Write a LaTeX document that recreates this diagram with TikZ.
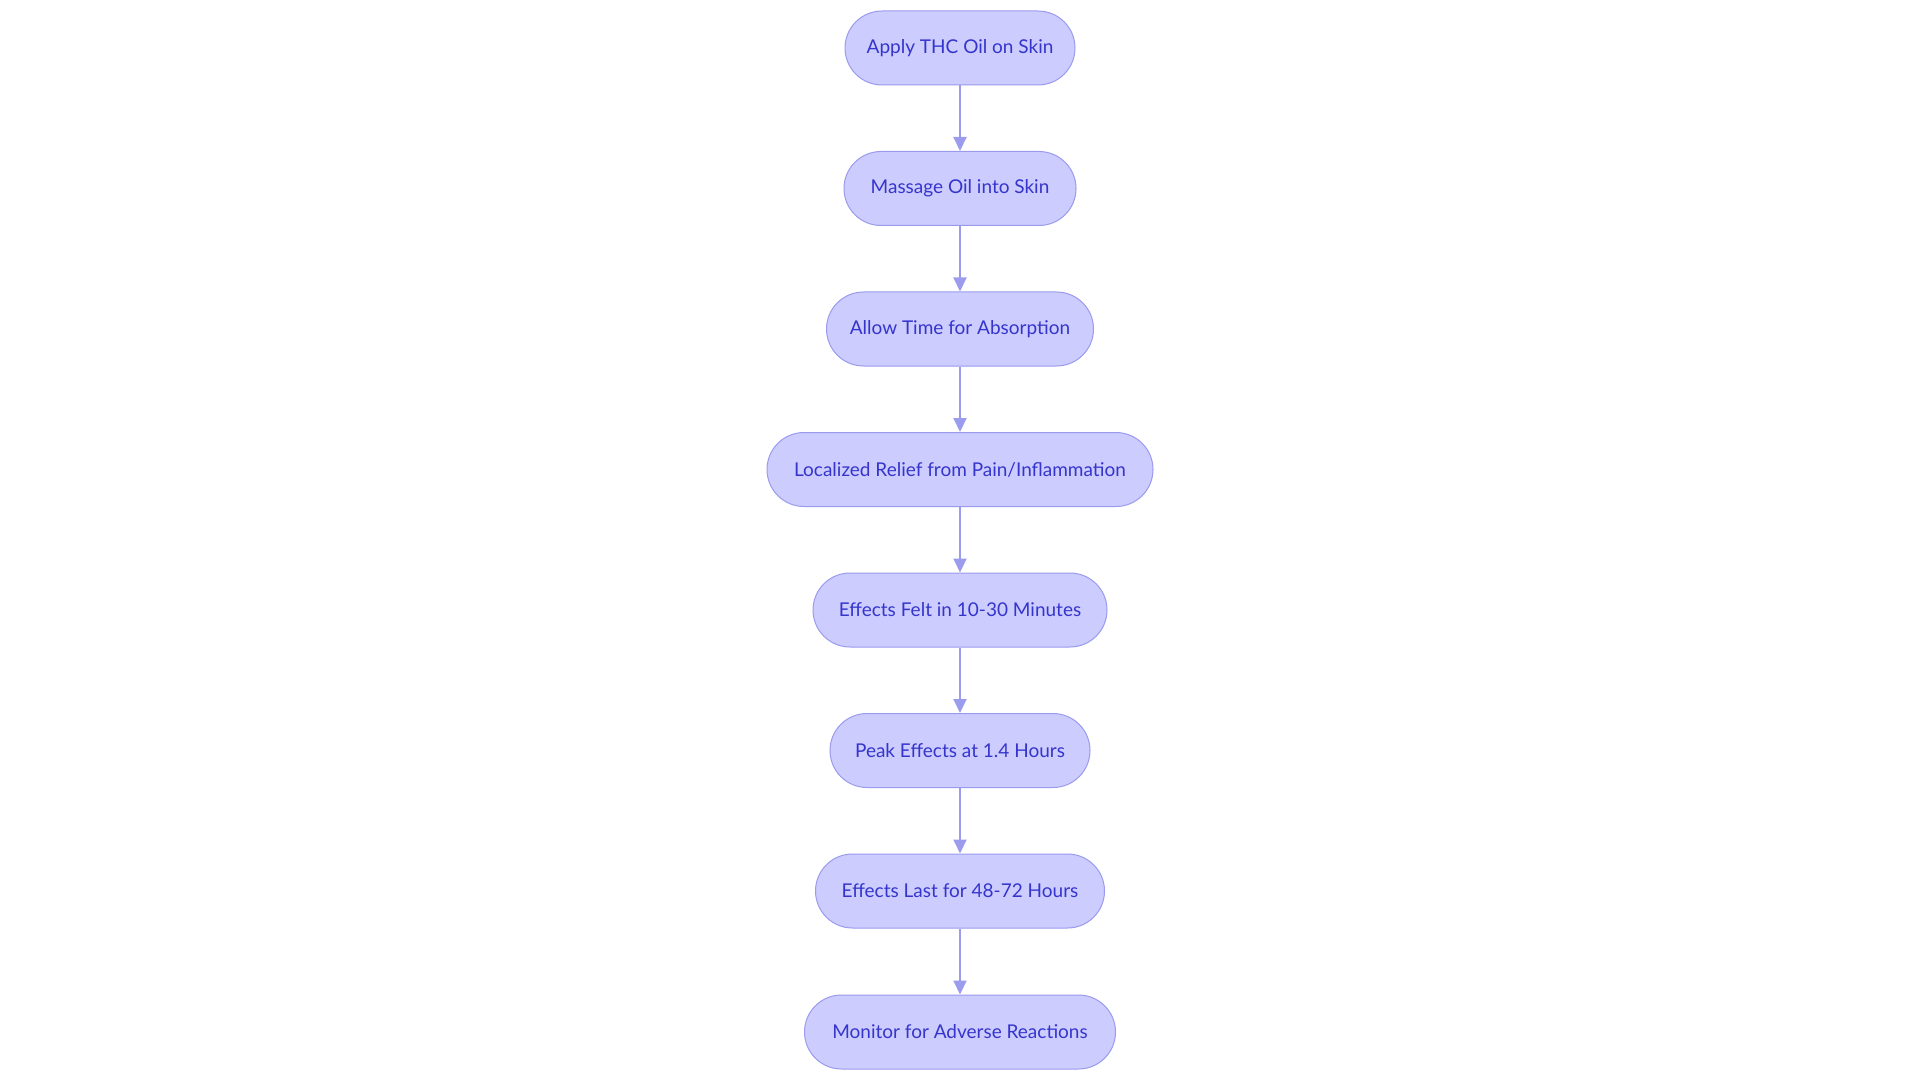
\documentclass[tikz,border=0pt]{standalone}
\usepackage{fontspec}
\setmainfont{Lato}
\usetikzlibrary{arrows.meta}
\definecolor{nodefill}{HTML}{CCCCFF}
\definecolor{nodeline}{HTML}{9A9AEE}
\definecolor{nodetext}{HTML}{3535CC}
\definecolor{arrowcol}{HTML}{9C9CEE}
\begin{document}
\begin{tikzpicture}[x=1pt,y=-1pt,
  stepbox/.style={draw=nodeline, line width=1pt, fill=nodefill, rounded corners=37pt,
    minimum height=74pt, inner sep=0pt, text=nodetext, font=\fontsize{19}{23}\selectfont},
  flow/.style={draw=arrowcol, line width=2pt, -{Triangle[length=14pt,width=13pt]}}]
\useasboundingbox (0,0) rectangle (1920,1083);
\node[stepbox, minimum width=230pt] (n1) at (960,48) {Apply THC Oil on Skin};
\node[stepbox, minimum width=232pt] (n2) at (960,188.5) {Massage Oil into Skin};
\node[stepbox, minimum width=267pt] (n3) at (960,329) {Allow Time for Absorption};
\node[stepbox, minimum width=386pt] (n4) at (960,469.5) {Localized Relief from Pain/Inflammation};
\node[stepbox, minimum width=294pt] (n5) at (960,610) {Effects Felt in 10-30 Minutes};
\node[stepbox, minimum width=260pt] (n6) at (960,750.5) {Peak Effects at 1.4 Hours};
\node[stepbox, minimum width=289pt] (n7) at (960,891) {Effects Last for 48-72 Hours};
\node[stepbox, minimum width=311pt] (n8) at (960,1032) {Monitor for Adverse Reactions};
\foreach \a/\b in {n1/n2,n2/n3,n3/n4,n4/n5,n5/n6,n6/n7,n7/n8}
  \draw[flow] (\a.south) -- (\b.north);
\end{tikzpicture}
\end{document}
